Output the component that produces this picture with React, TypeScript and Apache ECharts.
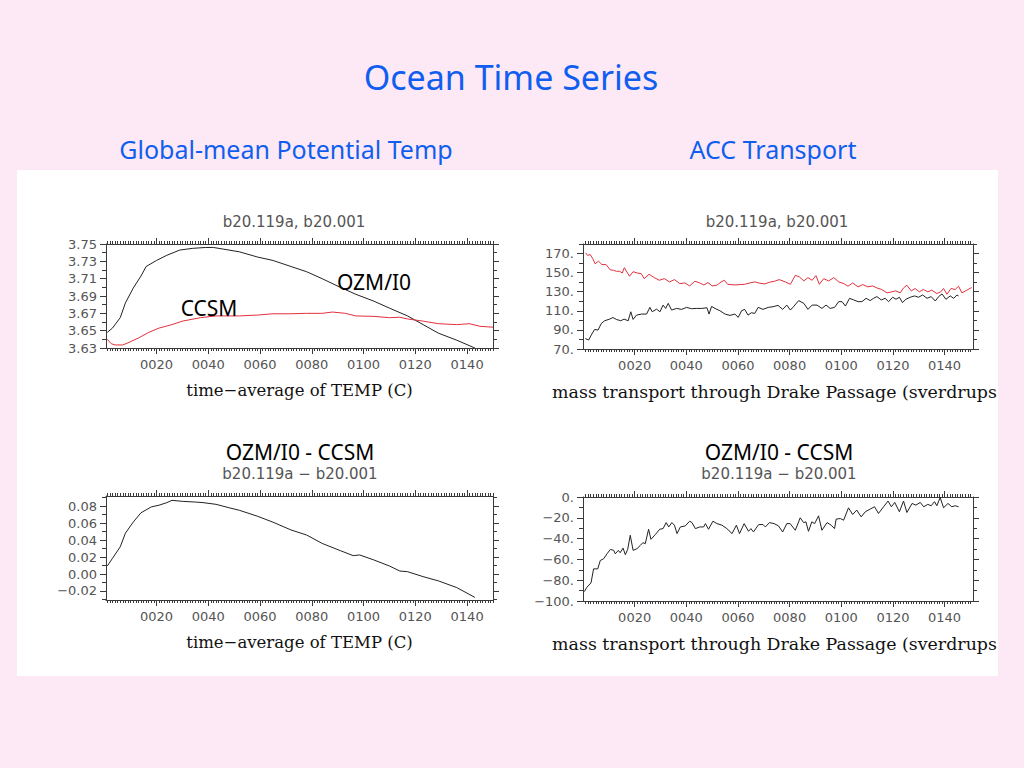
import React, { useEffect, useRef } from 'react';
import * as echarts from 'echarts';

// ---------------- data ----------------
const tempOzmYears = [1, 3, 6, 8, 11, 14, 16, 20, 24, 29, 34, 39, 42, 46, 52, 59, 65, 72, 78, 84, 91, 97, 104, 110, 117, 123, 129, 136, 143];
const tempOzmValues = [3.648, 3.653, 3.665, 3.682, 3.699, 3.713, 3.724, 3.731, 3.737, 3.743, 3.745, 3.746, 3.746, 3.744, 3.741, 3.735, 3.731, 3.724, 3.718, 3.71, 3.7, 3.692, 3.684, 3.676, 3.667, 3.657, 3.647, 3.639, 3.63];

const tempCcsmYears = [1, 2.5, 4, 7, 9, 13, 17, 21, 26, 30, 37, 43, 52, 59, 65, 72, 78, 84, 88, 93, 97, 104, 110, 114, 117, 123, 129, 136, 141, 145, 150];
const tempCcsmValues = [3.64, 3.635, 3.6335, 3.6335, 3.636, 3.6415, 3.648, 3.653, 3.657, 3.661, 3.665, 3.667, 3.667, 3.668, 3.6695, 3.6695, 3.67, 3.67, 3.6715, 3.67, 3.667, 3.6665, 3.665, 3.6655, 3.6635, 3.661, 3.658, 3.657, 3.658, 3.655, 3.654];

const tempDiffYears = [1, 3, 6, 8, 11, 14, 18, 21, 24, 26, 30, 35, 38, 43, 48, 52, 59, 65, 72, 78, 84, 91, 96, 98.5, 104, 110, 114, 117, 123, 129, 136, 143];
const tempDiffValues = [0.0094, 0.0184, 0.032, 0.048, 0.061, 0.072, 0.079, 0.081, 0.084, 0.0867, 0.0855, 0.0847, 0.084, 0.082, 0.078, 0.075, 0.068, 0.061, 0.0518, 0.0459, 0.036, 0.0275, 0.0216, 0.0224, 0.0165, 0.0094, 0.0035, 0.0027, -0.0031, -0.0082, -0.016, -0.0275];

const accCcsmYears = [1, 1.8, 2.8, 3.8, 4.7, 6, 7.3, 9, 10.5, 11.8, 13, 14.2, 15.2, 16, 18, 19.4, 21, 22.5, 23.7, 25.6, 27.6, 29.5, 31.5, 33.5, 35.4, 37.5, 39.4, 41.3, 43.3, 45.2, 46.8, 48.4, 50, 51.8, 53.5, 54.7, 56, 58.8, 60.7, 62.6, 64.6, 66.5, 68.5, 70.4, 72.3, 74.2, 76, 78.3, 80.3, 82.2, 83.8, 85.5, 87.1, 88.7, 90.2, 91.5, 93.2, 95.1, 97.1, 99, 101, 102.6, 104.4, 106.5, 108.3, 110.3, 112.1, 113.8, 115.7, 117.7, 119.6, 121.1, 122.8, 124.1, 125.4, 127.1, 128.6, 130.2, 131.8, 133.5, 135, 137, 138.5, 139.6, 140.9, 142.5, 144.1, 145.4, 146.7, 148.6, 150.5];
const accCcsmValues = [170.7, 168, 169, 164.5, 159.3, 162, 158.6, 158.3, 153, 152.4, 151.4, 151.4, 149.6, 155.2, 146.2, 151, 149.6, 149, 143.7, 148.3, 144.8, 142, 143.7, 140.3, 142.7, 138.5, 139.2, 136.1, 141, 139.2, 137.1, 139.6, 136.1, 136.8, 140.3, 142, 137.8, 137.1, 137.5, 137.8, 139.2, 140.3, 138.9, 138.2, 140, 141, 142.7, 140.3, 137.8, 147.2, 145.5, 141.3, 144.8, 142, 146.9, 137.8, 143.7, 141.3, 144.8, 140.3, 138.5, 135.8, 139.2, 135.1, 137.5, 135.1, 136.1, 134, 132.3, 128.8, 129.9, 130.9, 128.8, 134, 136.8, 130.9, 133.4, 129.9, 132.3, 129.9, 131.6, 128.1, 129.9, 133.4, 127.4, 133.4, 132.3, 135.8, 128.8, 131.6, 134.4];

const accOzmYears = [0.9, 2.2, 3.2, 4.5, 5.8, 7.1, 8.4, 10.3, 11.6, 12.9, 14.6, 15.9, 17.5, 18.5, 19.4, 20.7, 22.7, 24.6, 25.9, 26.8, 28.5, 29.8, 31, 32, 33, 34.3, 36.2, 38.2, 40.1, 42, 44, 46, 48, 48.8, 49.8, 51.1, 53, 55, 56.9, 58.8, 60.1, 61.4, 62.6, 63.9, 65.2, 66.5, 67.8, 69.7, 71.7, 73.6, 75.5, 77.3, 78.9, 80.3, 81.5, 83.5, 85.5, 87.1, 88.7, 90.6, 92.5, 94.1, 95.7, 97.4, 99, 100.3, 101.6, 103.2, 104.8, 106.5, 108, 109.6, 111.2, 112.5, 113.8, 115.5, 117, 118.3, 119.9, 121.2, 122.5, 123.7, 125, 126.7, 128.4, 129.9, 131.5, 133.2, 134.8, 136.4, 137.7, 139, 140.5, 142.2, 143.5, 144.8, 145.4];
const accOzmValues = [81, 79.4, 84.6, 90.5, 89.8, 96.8, 99.6, 101.3, 103, 101, 99.6, 101.3, 99.6, 109, 101, 105.5, 106.6, 106.6, 113.6, 109, 111.8, 109, 116, 112.5, 117.8, 110.8, 112.5, 111.5, 113.6, 112.2, 112.5, 112.5, 113.2, 106.6, 114.6, 112.5, 110.1, 106.6, 105.2, 106.6, 103.1, 110.1, 111.5, 105.5, 108, 107.3, 113.6, 111.5, 113.6, 114.3, 115.7, 111.5, 116, 110.8, 114.3, 120.7, 117.8, 111.5, 116, 116, 112.5, 116, 112.5, 113.6, 119.6, 119.6, 115, 123.1, 121.4, 119.6, 119.6, 123.1, 120.7, 123.1, 124.9, 121.4, 123.1, 119.6, 124.2, 122.1, 124.2, 118.6, 122.1, 124.2, 125.6, 124.2, 126.6, 123.1, 124.9, 120.3, 124.9, 127.7, 122.1, 125.6, 123.1, 126.6, 125.6];

const accDiffYears = [0.5, 1.5, 3.1, 4.1, 5.7, 6.7, 8, 9.3, 10.6, 11.9, 12.5, 13.7, 14.4, 15.5, 16.4, 17.3, 18.3, 19.4, 20.9, 22.2, 23.2, 24.1, 25.4, 26.3, 28, 29.7, 31, 32.2, 33.2, 34.4, 35.4, 36.4, 37.7, 39.6, 41.3, 42.2, 43.5, 45.2, 46.7, 47.4, 48.6, 50.3, 51.9, 53.8, 55.7, 57.7, 59.4, 60.6, 62.4, 64.1, 65, 66, 68, 69.7, 70.6, 72.2, 74, 75.7, 77.3, 78.9, 80.2, 82.2, 84.1, 85.4, 86.3, 87.3, 88.6, 89.7, 91.2, 92.5, 94.5, 96.1, 97.4, 98, 99.6, 100.9, 102.8, 104.4, 106, 107.7, 109.3, 111.2, 112.9, 114.4, 116.4, 118.1, 119.4, 120.7, 122.5, 124.1, 125.4, 127.4, 128.9, 130.6, 131.9, 133.5, 134.8, 136.1, 137, 138.3, 139.6, 141.3, 142.8, 144.1, 145.4];
const accDiffValues = [-91, -86.8, -82.6, -69.1, -69.1, -61, -59.4, -54.6, -50.4, -51.3, -54.6, -51.3, -53.6, -49.1, -55.5, -50.4, -36.8, -51.3, -49.7, -46.5, -43.9, -44.9, -31, -40.7, -36.1, -31, -30.4, -24.6, -28.8, -24.6, -27.1, -35.2, -28.8, -27.8, -23.3, -24.6, -30.4, -28.8, -28.8, -25.6, -31, -23.3, -25.6, -27.1, -30.4, -35.2, -27.1, -35.2, -25.6, -33, -30.4, -33.6, -26.5, -26.5, -28.8, -24.6, -25.6, -27.8, -33.6, -25.6, -25.6, -32, -20, -24.6, -23.9, -33, -23.9, -25.6, -18.1, -32, -24.6, -27.1, -30.4, -21.3, -20.7, -22.3, -10.4, -16.8, -12.6, -19.1, -14.2, -11.6, -9.4, -15.8, -9.4, -3.9, -9.4, -5.2, -14.2, -3.9, -14.9, -6.2, -7.8, -5.2, -9.4, -7.1, -8.4, -4.5, -8.4, -0.5, -10.4, -6.2, -9.4, -8.4, -9.4];

// tick labels
const xMajorTicks = [20, 40, 60, 80, 100, 120, 140];
const tempTicks = [3.63, 3.65, 3.67, 3.69, 3.71, 3.73, 3.75];
const tempMinorTicks = [3.64, 3.66, 3.68, 3.7, 3.72, 3.74];
const tempDiffTicks = [-0.02, 0, 0.02, 0.04, 0.06, 0.08];
const tempDiffMinorTicks = [-0.03, -0.01, 0.01, 0.03, 0.05, 0.07, 0.09];
const accTicks = [70, 90, 110, 130, 150, 170];
const accMinorTicks = [80, 100, 120, 140, 160, 180];
const accDiffTicks = [-100, -80, -60, -40, -20, 0];
const accDiffMinorTicks = [-90, -70, -50, -30, -10];

// ---------------- styling ----------------
const PINK = '#fde9f5';
const BLUE = '#0f5ef0';
const AXIS = '#3a3a3a';
const LABEL = '#555555';
const BLACK_LINE = '#222222';
const RED_LINE = '#e2303c';
const SANS = 'DejaVu Sans';
const SERIF = 'DejaVu Serif';
const COMIC = 'Noto Sans';

const xMinorTicks = Array.from({ length: 150 }, (_, i) => i + 1);

const minus = (s: string) => s.replace('-', '\u2212');

const zip = (xs: number[], ys: number[]) => xs.map((x, i) => [x, ys[i]]);

type Panel = {
  grid: { left: number; top: number; width: number; height: number };
  xMin: number;
  xMax: number;
  yMin: number;
  yMax: number;
  yMajor: number[];
  yMinor: number[];
  yFmt: (v: number) => string;
  xName: string;
  nameSize: number;
  namePad: number[];
  series: { data: number[][]; color: string }[];
};

const panels: Panel[] = [
  {
    grid: { left: 106, top: 244, width: 387, height: 104 },
    xMin: 0.5, xMax: 150, yMin: 3.63, yMax: 3.75,
    yMajor: tempTicks, yMinor: tempMinorTicks,
    yFmt: (v) => minus(v.toFixed(2)),
    xName: 'time\u2212average of TEMP (C)', nameSize: 16.5, namePad: [0, 0, 0, 0],
    series: [
      { data: zip(tempOzmYears, tempOzmValues), color: BLACK_LINE },
      { data: zip(tempCcsmYears, tempCcsmValues), color: RED_LINE },
    ],
  },
  {
    grid: { left: 583, top: 244, width: 390, height: 105 },
    xMin: 0, xMax: 151, yMin: 70, yMax: 180,
    yMajor: accTicks, yMinor: accMinorTicks,
    yFmt: (v) => minus(String(Math.round(v))) + '.',
    xName: 'mass transport through Drake Passage (sverdrups', nameSize: 17.4, namePad: [0, 7, 0, 0],
    series: [
      { data: zip(accOzmYears, accOzmValues), color: BLACK_LINE },
      { data: zip(accCcsmYears, accCcsmValues), color: RED_LINE },
    ],
  },
  {
    grid: { left: 106, top: 496, width: 387, height: 104 },
    xMin: 0.5, xMax: 150, yMin: -0.0306, yMax: 0.0918,
    yMajor: tempDiffTicks, yMinor: tempDiffMinorTicks,
    yFmt: (v) => minus(v.toFixed(2)),
    xName: 'time\u2212average of TEMP (C)', nameSize: 16.5, namePad: [0, 0, 0, 0],
    series: [{ data: zip(tempDiffYears, tempDiffValues), color: BLACK_LINE }],
  },
  {
    grid: { left: 583, top: 497, width: 390, height: 104 },
    xMin: 0, xMax: 151, yMin: -100, yMax: 0,
    yMajor: accDiffTicks, yMinor: accDiffMinorTicks,
    yFmt: (v) => minus(String(Math.round(v))) + '.',
    xName: 'mass transport through Drake Passage (sverdrups', nameSize: 17.4, namePad: [0, 7, 0, 0],
    series: [{ data: zip(accDiffYears, accDiffValues), color: BLACK_LINE }],
  },
];

const lineStyle = { color: AXIS, width: 1 };
const tickLabel = { color: LABEL, fontFamily: SANS, fontSize: 13 };

function buildOption() {
  const xAxis: any[] = [];
  const yAxis: any[] = [];
  const series: any[] = [];
  panels.forEach((p, gi) => {
    const cx = { type: 'value', gridIndex: gi, min: p.xMin, max: p.xMax, splitLine: { show: false } };
    xAxis.push(
      {
        ...cx, position: 'bottom',
        axisLine: { show: true, onZero: false, lineStyle },
        axisTick: { show: true, length: 6, customValues: xMajorTicks, lineStyle },
        axisLabel: {
          show: true, customValues: xMajorTicks, margin: 10, ...tickLabel,
          formatter: (v: number) => String(Math.round(v)).padStart(4, '0'),
        },
        name: p.xName, nameLocation: 'middle', nameGap: 34,
        nameTextStyle: { color: '#111', fontFamily: SERIF, fontSize: p.nameSize, padding: p.namePad },
      },
      {
        ...cx, position: 'bottom',
        axisLine: { show: false, onZero: false },
        axisTick: { show: true, length: 3, customValues: xMinorTicks, lineStyle },
        axisLabel: { show: false },
      },
      {
        ...cx, position: 'top',
        axisLine: { show: true, onZero: false, lineStyle },
        axisTick: { show: true, length: 6, customValues: xMajorTicks, lineStyle },
        axisLabel: { show: false },
      },
      {
        ...cx, position: 'top',
        axisLine: { show: false, onZero: false },
        axisTick: { show: true, length: 3, customValues: xMinorTicks, lineStyle },
        axisLabel: { show: false },
      }
    );
    const cy = { type: 'value', gridIndex: gi, min: p.yMin, max: p.yMax, splitLine: { show: false } };
    yAxis.push(
      {
        ...cy, position: 'left',
        axisLine: { show: true, onZero: false, lineStyle },
        axisTick: { show: true, length: 6, customValues: p.yMajor, lineStyle },
        axisLabel: { show: true, customValues: p.yMajor, margin: 9, ...tickLabel, formatter: p.yFmt },
      },
      {
        ...cy, position: 'left',
        axisLine: { show: false, onZero: false },
        axisTick: { show: true, length: 4, customValues: p.yMinor, lineStyle },
        axisLabel: { show: false },
      },
      {
        ...cy, position: 'right',
        axisLine: { show: true, onZero: false, lineStyle },
        axisTick: { show: true, length: 6, customValues: p.yMajor, lineStyle },
        axisLabel: { show: false },
      },
      {
        ...cy, position: 'right',
        axisLine: { show: false, onZero: false },
        axisTick: { show: true, length: 4, customValues: p.yMinor, lineStyle },
        axisLabel: { show: false },
      }
    );
    p.series.forEach((s) => {
      series.push({
        type: 'line',
        xAxisIndex: gi * 4,
        yAxisIndex: gi * 4,
        data: s.data,
        showSymbol: false,
        symbol: 'none',
        clip: true,
        lineStyle: { color: s.color, width: 1 },
        z: 5,
      });
    });
  });

  const text = (t: string, x: number, y: number, size: number, fill: string, family: string) => ({
    type: 'text', x, y, z: 10,
    style: { text: t, fill, fontSize: size, fontFamily: family, align: 'center', verticalAlign: 'middle' },
  });

  return {
    animation: false,
    backgroundColor: PINK,
    grid: panels.map((p) => ({ ...p.grid, containLabel: false, outerBoundsMode: 'none' })),
    xAxis,
    yAxis,
    series,
    graphic: [
      { type: 'rect', z: -10, shape: { x: 17, y: 170, width: 981, height: 506 }, style: { fill: '#ffffff' } },
      text('Ocean Time Series', 511, 77, 34, BLUE, COMIC),
      text('Global-mean Potential Temp', 286, 149, 25, BLUE, COMIC),
      text('ACC Transport', 773, 149, 25, BLUE, COMIC),
      text('b20.119a, b20.001', 294, 222, 15, LABEL, SANS),
      text('b20.119a, b20.001', 777, 222, 15, LABEL, SANS),
      text('OZM/I0 - CCSM', 300, 452, 21, '#000', COMIC),
      text('OZM/I0 - CCSM', 779, 452, 21, '#000', COMIC),
      text('b20.119a \u2212 b20.001', 300, 474, 15, LABEL, SANS),
      text('b20.119a \u2212 b20.001', 779, 474, 15, LABEL, SANS),
      text('OZM/I0', 374, 282, 21, '#000', COMIC),
      text('CCSM', 209, 308, 21, '#000', COMIC),
    ],
  };
}

export default function App() {
  const ref = useRef<HTMLDivElement>(null);
  useEffect(() => {
    if (!ref.current) return;
    const chart = echarts.init(ref.current, undefined, { renderer: 'svg' });
    chart.setOption(buildOption() as any);
    return () => chart.dispose();
  }, []);
  return (
    <div
      ref={ref}
      style={{ position: 'fixed', left: 0, top: 0, width: 1024, height: 768 }}
    />
  );
}
